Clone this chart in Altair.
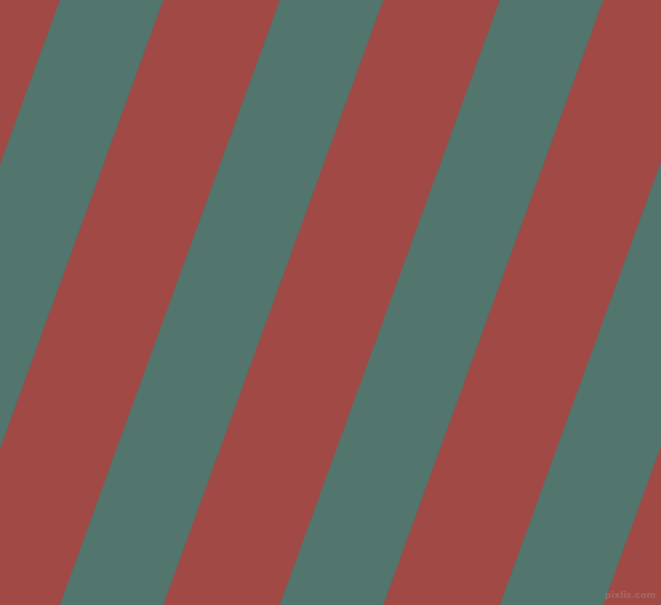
import altair as alt
import pandas as pd

# Diagonal stripe pattern: teal stripes over a red ground
stripe_ids = ["s1", "s2", "s3", "s4"]
teal_start_top = [60, 280, 500, 720]       # left edge of each teal stripe at the top (y=0)
teal_start_bottom = [-160, 60, 280, 500]   # left edge of each teal stripe at the bottom (y=605)
teal_width = 103
y_top = 0
y_bottom = 605

red = "#A14944"
teal = "#52756E"

watermark_text = ["pixlis.com"]
watermark_x = [656]
watermark_y = [598]

# polygon vertices (clockwise) for each teal stripe
rows = []
for sid, xt, xb in zip(stripe_ids, teal_start_top, teal_start_bottom):
    rows.append({"stripe": sid, "k": 0, "y": y_top, "x": xt})
    rows.append({"stripe": sid, "k": 1, "y": y_top, "x": xt + teal_width})
    rows.append({"stripe": sid, "k": 2, "y": y_bottom, "x": xb + teal_width})
    rows.append({"stripe": sid, "k": 3, "y": y_bottom, "x": xb})
    rows.append({"stripe": sid, "k": 4, "y": y_top, "x": xt})
df = pd.DataFrame(rows)

xs = alt.Scale(domain=[0, 661], nice=False, zero=False)
ys = alt.Scale(domain=[0, 605], nice=False, zero=False, reverse=True)

stripes = alt.Chart(df).mark_line(fill=teal, stroke=teal, strokeWidth=0.5, clip=True).encode(
    y=alt.Y("y:Q", scale=ys, axis=None),
    x=alt.X("x:Q", scale=xs, axis=None),
    detail="stripe:N",
    order="k:Q",
)

wm = pd.DataFrame({"t": watermark_text, "x": watermark_x, "y": watermark_y})
text = alt.Chart(wm).mark_text(
    align="right", baseline="alphabetic", fontSize=9, fontWeight="bold",
    font="DejaVu Sans", color="#a8a8a8", opacity=0.3,
).encode(
    x=alt.X("x:Q", scale=xs, axis=None),
    y=alt.Y("y:Q", scale=ys, axis=None),
    text="t:N",
)

chart = alt.layer(stripes, text).properties(
    width=661, height=605, background=red, padding=0,
    autosize=alt.AutoSizeParams(type="none"),
).configure_view(stroke=None, fill=red)

chart.save("out.html", embed_options={
    "renderer": "svg", "actions": False,
    "defaultStyle": "body{margin:0;background:#A14944;overflow:hidden}",
})
